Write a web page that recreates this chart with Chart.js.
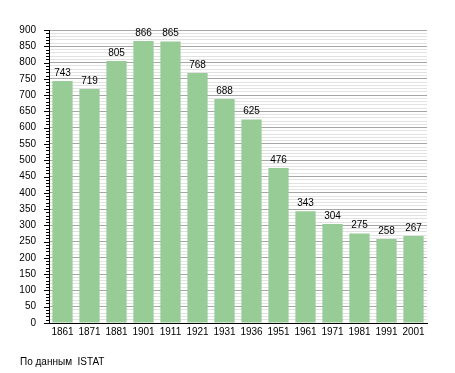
<!DOCTYPE html>
<html>
<head>
<meta charset="utf-8">
<script src="https://cdn.jsdelivr.net/npm/chart.js@4.4.0/dist/chart.umd.min.js"></script>
<style>
  body { margin: 0; background: #fff; }
  #wrap { position: relative; width: 455px; height: 373px; }
  #source { position: absolute; left: 20px; top: 356px; font: 10px "Liberation Sans", Arial, sans-serif; color: #000; white-space: pre; }
</style>
</head>
<body>
<div id="wrap">
  <canvas id="populationChart"></canvas>
  <div id="source">По данным  ISTAT</div>
</div>
<script>
// Data
const years = ["1861", "1871", "1881", "1901", "1911", "1921", "1931", "1936", "1951", "1961", "1971", "1981", "1991", "2001"];
const population = [743, 719, 805, 866, 865, 768, 688, 625, 476, 343, 304, 275, 258, 267];
const yMin = 0, yMax = 900, minorStep = 10, majorStep = 50;

const chartFont = { family: "'Liberation Sans', Arial, sans-serif", size: 10 };

// value labels above each bar
const barLabels = {
    id: "barLabels",
    afterDatasetsDraw(chart) {
        const ctx = chart.ctx;
        const meta = chart.getDatasetMeta(0);
        ctx.save();
        ctx.font = "10px 'Liberation Sans', Arial, sans-serif";
        ctx.fillStyle = "#000";
        ctx.textAlign = "center";
        ctx.textBaseline = "bottom";
        meta.data.forEach(function(bar, i) {
            ctx.fillText(population[i], bar.x, bar.y - 3);
        });
        ctx.restore();
    }
};

// major and minor tick marks on the y axis
const yTickMarks = {
    id: "yTickMarks",
    afterDraw(chart) {
        const ctx = chart.ctx;
        const yScale = chart.scales.y;
        const left = chart.chartArea.left;
        ctx.save();
        ctx.strokeStyle = "#000";
        ctx.lineWidth = 1;
        for (let v = yMin; v <= yMax; v += minorStep) {
            const y = Math.round(yScale.getPixelForValue(v)) + 0.5;
            const len = (v % majorStep === 0) ? 5 : 3;
            ctx.beginPath();
            ctx.moveTo(left - len, y);
            ctx.lineTo(left, y);
            ctx.stroke();
        }
        ctx.restore();
    }
};

new Chart(document.getElementById("populationChart"), {
    type: "bar",
    data: {
        labels: years,
        datasets: [{
            data: population,
            backgroundColor: "#97cc97",
            borderWidth: 0,
            barPercentage: 0.75,
            categoryPercentage: 1
        }]
    },
    options: {
        responsive: true,
        maintainAspectRatio: false,
        animation: false,
        layout: { padding: { left: 0, right: 28, top: 30, bottom: 32 } },
        plugins: {
            legend: { display: false },
            tooltip: { enabled: false }
        },
        scales: {
            x: {
                grid: { display: false, drawTicks: false },
                border: { display: true, color: "#000", width: 1 },
                ticks: { color: "#000", font: chartFont, padding: 3, maxRotation: 0, autoSkip: false },
                afterFit: function(scale) { scale.height = 18; }
            },
            y: {
                min: yMin,
                max: yMax,
                grid: {
                    drawTicks: false,
                    color: function(c) {
                        return c.tick.value % majorStep === 0 ? "#a6a6a6" : "#e2e2e2";
                    }
                },
                border: { display: true, color: "#000", width: 1 },
                ticks: {
                    stepSize: minorStep,
                    maxTicksLimit: 200,
                    autoSkip: false,
                    color: "#000",
                    font: chartFont,
                    padding: 13,
                    callback: function(value) {
                        return value % majorStep === 0 ? value : "";
                    }
                },
                afterFit: function(scale) { scale.width = 49; }
            }
        }
    },
    plugins: [barLabels, yTickMarks]
});
</script>
</body>
</html>
